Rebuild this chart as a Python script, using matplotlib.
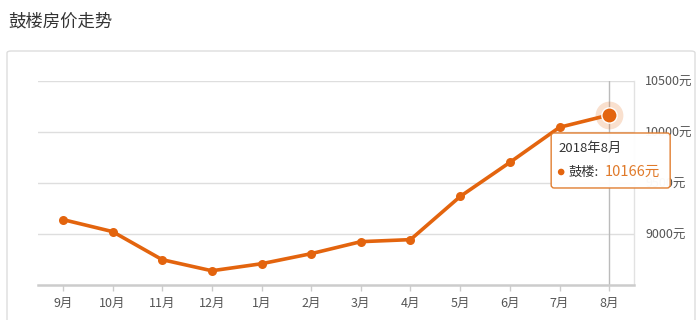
"""鼓楼房价走势"""

import matplotlib.pyplot as plt
import matplotlib.transforms as mtransforms
from matplotlib.patches import FancyBboxPatch

plt.rcParams['font.family'] = ['Noto Sans CJK SC', 'DejaVu Sans']

# 数据
months = ['9月', '10月', '11月', '12月', '1月', '2月', '3月', '4月', '5月', '6月', '7月', '8月']
prices = [9138, 9020, 8744, 8635, 8704, 8803, 8921, 8941, 9365, 9700, 10045, 10166]
y_ticks = [9000, 9500, 10000, 10500]
hover_label = '2018年8月'
series_name = '鼓楼'

orange = '#e3640e'
W, H = 698, 320

fig = plt.figure(figsize=(W / 100, H / 100), dpi=100)
ax = fig.add_axes([38 / W, 1 - 284.5 / H, (634 - 38) / W, (284.5 - 81) / H])

# 外框
fig.patches.append(FancyBboxPatch((7 / W, -0.05), (695 - 7) / W, 0.05 + 1 - 51 / H,
                                  boxstyle='round,pad=0,rounding_size=0.006',
                                  transform=fig.transFigure, facecolor='none',
                                  edgecolor='#dddddd', lw=1))
fig.text(8 / W, 1 - 22 / H, '鼓楼房价走势', fontsize=12.5, color='#333333', va='center')

x = list(range(len(months)))
ax.set_xlim(-0.5, len(months) - 0.5)
ax.set_ylim(8500, 10500)

for v in y_ticks:
    ax.axhline(v, color='#dedede', lw=1, zorder=1)
ax.set_yticks(y_ticks)
ax.set_yticklabels([f'{v}元' for v in y_ticks])
ax.yaxis.tick_right()
ax.tick_params(axis='y', length=0, pad=8, labelsize=9, labelcolor='#555555')
ax.set_xticks(x)
ax.set_xticklabels(months)
ax.tick_params(axis='x', length=4, width=1, color='#cccccc', pad=5,
               labelsize=9, labelcolor='#555555')
for s in ['top', 'left']:
    ax.spines[s].set_visible(False)
ax.spines['right'].set_color('#e2e2e2')
ax.spines['right'].set_linewidth(1)
ax.spines['bottom'].set_color('#cccccc')
ax.spines['bottom'].set_linewidth(1.8)

# 指示线
ax.axvline(x[-1], color='#bbbbbb', lw=1, zorder=2)

ax.plot(x, prices, color=orange, lw=2.6, marker='o', markersize=6.5,
        markeredgewidth=0, zorder=3, solid_capstyle='round')
# 悬停点
ax.plot(x[-1], prices[-1], 'o', color=orange, markersize=20, alpha=0.2,
        markeredgewidth=0, zorder=4)
ax.plot(x[-1], prices[-1], 'o', color=orange, markersize=11,
        markeredgecolor='white', markeredgewidth=1, zorder=5)

# 提示框
px, py = ax.transData.transform((x[-1], prices[-1]))
ident = mtransforms.IdentityTransform()
box = FancyBboxPatch((px - 58, py - 73), 119, 55,
                     boxstyle='round,pad=0,rounding_size=3', transform=ident,
                     facecolor='white', edgecolor='#e07a2a', lw=1, zorder=10,
                     alpha=0.97)
fig.patches.append(box)
fig.text(px - 51, py - 33, hover_label, transform=ident, fontsize=9.5,
         color='#333333', va='center', zorder=11)
fig.patches.append(plt.Circle((px - 48, py - 57), 2.6, transform=ident,
                              color=orange, zorder=11))
fig.text(px - 41, py - 57, f'{series_name}:', transform=ident, fontsize=9.5,
         color='#333333', va='center', zorder=11)
fig.text(px - 4, py - 57, f'{prices[-1]}元', transform=ident, fontsize=10.5,
         color='#e07a2a', va='center', zorder=11)

plt.savefig('out.png', dpi=100)
